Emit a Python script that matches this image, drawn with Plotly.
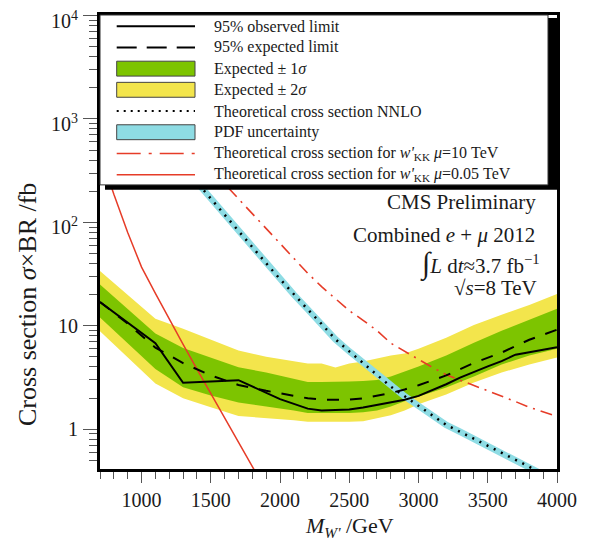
import math
import plotly.graph_objects as go

# ---------------- data ----------------
mass_band = [700, 900, 1100, 1300, 1500, 1700, 1900, 2100, 2200, 2300, 2400,
             2500, 2600, 2700, 2800, 2900, 3000, 3200, 3400, 3600, 3800, 4000]
exp_limit = [17.0, 10.5, 6.14, 4.36, 3.31, 2.68, 2.35, 2.08, 1.99, 1.93, 1.92,
             1.93, 1.99, 2.10, 2.24, 2.42, 2.66, 3.31, 4.38, 5.50, 7.33, 9.16]
exp_plus1 = [25.1, 14.6, 8.43, 6.11, 4.92, 3.97, 3.53, 3.09, 2.86, 2.86, 2.86,
             2.89, 2.92, 2.99, 3.23, 3.61, 4.03, 5.15, 6.87, 8.95, 11.4, 14.6]
exp_minus1 = [12.0, 6.71, 3.82, 2.55, 2.12, 1.81, 1.66, 1.52, 1.43, 1.43, 1.43,
              1.43, 1.46, 1.52, 1.66, 1.86, 2.08, 2.53, 3.23, 4.22, 5.15, 6.01]
exp_plus2 = [33.8, 19.9, 11.7, 9.36, 7.33, 5.75, 5.03, 4.51, 4.31, 4.31, 3.95,
             4.31, 4.51, 4.82, 5.15, 5.38, 6.01, 7.67, 10.2, 12.8, 15.9, 20.3]
exp_minus2 = [8.85, 4.92, 2.77, 1.99, 1.63, 1.34, 1.28, 1.22, 1.18, 1.18, 1.18,
              1.18, 1.19, 1.28, 1.36, 1.52, 1.74, 2.17, 2.83, 3.53, 4.22, 4.92]

mass_obs = [700, 1100, 1300, 1700, 2000, 2200, 2300, 2500, 2600, 2700, 2800, 2900,
            3000, 3100, 3200, 3300, 3400, 3500, 3600, 3700, 3800, 3900, 4000]
obs_limit = [17.0, 6.8, 2.81, 2.98, 1.95, 1.58, 1.52, 1.55, 1.62, 1.72, 1.83, 1.93,
             2.10, 2.37, 2.72, 3.15, 3.60, 4.05, 4.55, 5.25, 5.55, 5.90, 6.20]

mass_nnlo = [1300, 1400, 1500, 1600, 1700, 1800, 1900, 2000, 2100, 2200, 2300, 2400,
             2500, 2600, 2700, 2800, 2900, 3000, 3100, 3200, 3300, 3400, 3500, 3600,
             3700, 3800, 3900, 4000]
xs_nnlo = [349, 243, 169, 117, 81.5, 57.0, 40.2, 28.3, 20.0, 14.4, 10.4, 7.4,
           5.66, 4.36, 3.35, 2.58, 2.08, 1.68, 1.36, 1.10, 0.944, 0.81, 0.695, 0.596,
           0.512, 0.433, 0.366, 0.31]

mass_kk10 = [1500, 1600, 1700, 1800, 1900, 2000, 2100, 2200, 2300, 2400, 2500, 2600,
             2700, 2800, 2900, 3000, 3100, 3200, 3300, 3400, 3500, 3600, 3700, 3800,
             3900, 4000]
xs_kk10 = [328, 236, 171, 123, 88.3, 63.5, 45.2, 32.2, 23.9, 18.2, 14.0, 11.3,
           8.98, 6.78, 5.64, 4.73, 3.96, 3.36, 2.98, 2.65, 2.37, 2.11, 1.85, 1.63,
           1.48, 1.33]

mass_kk005 = [700, 800, 900, 1000, 1100, 1200, 1300, 1400, 1500, 1600, 1700, 1800, 1900]
xs_kk005 = [468, 187, 79.6, 36.9, 20.6, 11.5, 6.6, 3.81, 2.21, 1.31, 0.76, 0.438, 0.253]

x_major = [1000, 1500, 2000, 2500, 3000, 3500, 4000]
x_major_text = ["1000", "1500", "2000", "2500", "3000", "3500", "4000"]
y_major = [1, 10, 100, 1000, 10000]
y_major_text = ["1", "10", "10<sup>2</sup>", "10<sup>3</sup>", "10<sup>4</sup>"]

legend_labels = [
    "95% observed limit",
    "95% expected limit",
    "Expected ± 1<i>σ</i>",
    "Expected ± 2<i>σ</i>",
    "Theoretical cross section NNLO",
    "PDF uncertainty",
    "Theoretical cross section for <i>w'</i><sub>KK</sub> <i>μ</i>=10 TeV",
    "Theoretical cross section for <i>w'</i><sub>KK</sub> <i>μ</i>=0.05 TeV",
]

# ---------------- style ----------------
FONT = "Liberation Serif"
GREEN = "#7dc400"
YELLOW = "#f3e54c"
CYAN = "#8edce4"
RED = "#e63c28"
TICK = "#555555"
TXT = "#1a1a1a"

W, H = 596, 544
ML, MR, MT, MB = 100, 39, 12, 75
PW, PH = W - ML - MR, H - MT - MB


def px(xp):
    return (xp - ML) / PW


def py(yp):
    return (H - MB - yp) / PH


fig = go.Figure()

fig.add_trace(go.Scatter(x=mass_band + mass_band[::-1], y=exp_plus2 + exp_minus2[::-1],
                         fill="toself", fillcolor=YELLOW, mode="lines",
                         line=dict(width=0, color=YELLOW), hoverinfo="skip"))
fig.add_trace(go.Scatter(x=mass_band + mass_band[::-1], y=exp_plus1 + exp_minus1[::-1],
                         fill="toself", fillcolor=GREEN, mode="lines",
                         line=dict(width=0, color=GREEN), hoverinfo="skip"))
# PDF uncertainty band (thin band around NNLO)
fig.add_trace(go.Scatter(x=mass_nnlo, y=xs_nnlo, mode="lines",
                         line=dict(color=CYAN, width=6.5)))
fig.add_trace(go.Scatter(x=mass_nnlo, y=xs_nnlo, mode="lines",
                         line=dict(color="black", width=2.5, dash="2px,6px")))
fig.add_trace(go.Scatter(x=mass_kk10, y=xs_kk10, mode="lines",
                         line=dict(color=RED, width=1.6, dash="12px,6px,2px,6px")))
fig.add_trace(go.Scatter(x=mass_kk005, y=xs_kk005, mode="lines",
                         line=dict(color=RED, width=1.5)))
fig.add_trace(go.Scatter(x=mass_band, y=exp_limit, mode="lines",
                         line=dict(color="black", width=2, dash="12px,11px")))
fig.add_trace(go.Scatter(x=mass_obs, y=obs_limit, mode="lines",
                         line=dict(color="black", width=2)))

shapes = []
annotations = []

# legend box with shadow
shapes.append(dict(type="rect", xref="paper", yref="paper",
                   x0=px(105), x1=px(557), y0=py(188), y1=py(15),
                   fillcolor="black", line=dict(width=0)))
shapes.append(dict(type="rect", xref="paper", yref="paper",
                   x0=px(100), x1=px(548), y0=py(183), y1=py(12),
                   fillcolor="white", line=dict(color="#333333", width=1)))

row_y = [23.3, 44.7, 66.0, 87.3, 108.7, 130.0, 151.3, 172.7]
sx0, sx1 = 116.7, 195.0
shapes.append(dict(type="line", xref="paper", yref="paper", x0=px(sx0), x1=px(sx1),
                   y0=py(row_y[0]), y1=py(row_y[0]), line=dict(color="black", width=2)))
shapes.append(dict(type="line", xref="paper", yref="paper", x0=px(sx0), x1=px(sx1),
                   y0=py(row_y[1]), y1=py(row_y[1]),
                   line=dict(color="black", width=2, dash="20px,10px")))
for r, col in [(2, GREEN), (3, YELLOW), (5, CYAN)]:
    shapes.append(dict(type="rect", xref="paper", yref="paper", x0=px(sx0), x1=px(sx1),
                       y0=py(row_y[r] + 7.5), y1=py(row_y[r] - 7.5),
                       fillcolor=col, line=dict(color="#444444", width=1)))
shapes.append(dict(type="line", xref="paper", yref="paper", x0=px(sx0), x1=px(sx1),
                   y0=py(row_y[4]), y1=py(row_y[4]),
                   line=dict(color="black", width=2, dash="2px,5px")))
shapes.append(dict(type="line", xref="paper", yref="paper", x0=px(sx0), x1=px(sx1),
                   y0=py(row_y[6]), y1=py(row_y[6]),
                   line=dict(color=RED, width=1.5, dash="24px,8px,3px,8px")))
shapes.append(dict(type="line", xref="paper", yref="paper", x0=px(sx0), x1=px(sx1),
                   y0=py(row_y[7]), y1=py(row_y[7]),
                   line=dict(color=RED, width=1.5)))

for lbl, yy in zip(legend_labels, row_y):
    annotations.append(dict(text=lbl, xref="paper", yref="paper", x=px(211.7), y=py(yy),
                            xanchor="left", yanchor="middle", showarrow=False,
                            font=dict(family=FONT, size=16, color=TXT)))

# CMS texts
right_texts = [
    ("CMS Preliminary", 538, 200.7, 21),
    ("Combined <i>e</i> + <i>μ</i> 2012", 537, 233.3, 21),
    ("<span style=\"font-size:30px\">∫</span><i>L</i> d<i>t</i>≈3.7 fb<sup>−1</sup>", 542, 263, 21),
    ("√<i>s</i>=8 TeV", 539, 287, 21),
]
for t, xr, yc, fs in right_texts:
    annotations.append(dict(text=t, xref="paper", yref="paper", x=px(xr), y=py(yc),
                            xanchor="right", yanchor="middle", showarrow=False,
                            font=dict(family=FONT, size=fs, color=TXT)))

# y tick labels (placed on the log axis values)
for v, t in zip(y_major, y_major_text):
    annotations.append(dict(text=t, xref="paper", yref="y", x=px(80), y=math.log10(v),
                            xanchor="right", yanchor="middle", showarrow=False,
                            yshift=-4 if "sup" in t else 0,
                            font=dict(family=FONT, size=20, color=TXT)))

# axis titles
annotations.append(dict(text="<i>M</i><sub><i>W'</i></sub> /GeV", xref="paper", yref="paper",
                        x=px(349), y=py(527), xanchor="center", yanchor="middle",
                        showarrow=False, font=dict(family=FONT, size=22, color=TXT)))
annotations.append(dict(text="Cross section <i>σ</i>×BR /fb", xref="paper", yref="paper",
                        x=px(27), y=py(304), xanchor="center", yanchor="middle",
                        textangle=-90, showarrow=False,
                        font=dict(family=FONT, size=26, color=TXT)))

x_minor = [m for m in range(700, 4001, 100) if m not in x_major]
y_minor = []
for dec in [0.1, 1, 10, 100, 1000]:
    for k in range(2, 10):
        y_minor.append(k * dec)

fig.update_layout(
    width=W, height=H,
    margin=dict(l=ML, r=MR, t=MT, b=MB),
    paper_bgcolor="white", plot_bgcolor="white",
    showlegend=False,
    shapes=shapes, annotations=annotations,
    xaxis=dict(range=[700, 4000], showline=True, linecolor="black", linewidth=2.5,
               mirror=True, showgrid=False, zeroline=False,
               ticks="outside", ticklen=11, tickwidth=1.3, tickcolor=TICK,
               tickmode="array", tickvals=x_major, ticktext=x_major_text,
               tickfont=dict(family=FONT, size=20, color=TXT),
               minor=dict(tickmode="array", tickvals=x_minor, ticks="outside",
                          ticklen=7, tickwidth=1.3, tickcolor=TICK, showgrid=False)),
    yaxis=dict(type="log", range=[-0.385, 4.005], showline=True, linecolor="black",
               linewidth=2.5, mirror=True, showgrid=False, zeroline=False,
               ticks="outside", ticklen=14, tickwidth=1.3, tickcolor=TICK,
               tickmode="array", tickvals=y_major, showticklabels=False,
               minor=dict(tickmode="array", tickvals=y_minor, ticks="outside",
                          ticklen=8, tickwidth=1.3, tickcolor=TICK, showgrid=False)),
)

fig.write_html("out.html")
